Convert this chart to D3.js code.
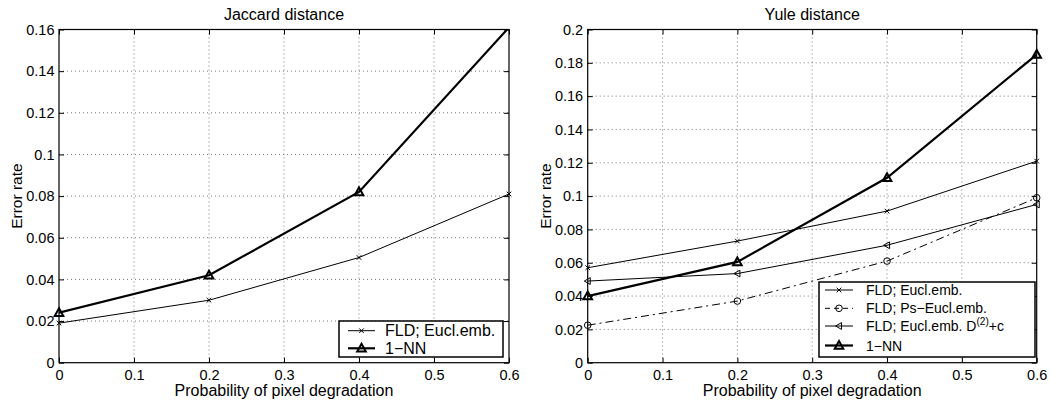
<!DOCTYPE html>
<html><head><meta charset="utf-8">
<script src="https://cdn.jsdelivr.net/npm/d3@7"></script>
<style>body{margin:0;background:#fff} svg text{font-family:"Liberation Sans",Arial,Helvetica,sans-serif;fill:#000}</style>
</head><body><svg id="c" width="1050" height="402"></svg>
<script>
// ---- data ----
const xValues = [0, 0.2, 0.4, 0.6];
const xTicks = [0, 0.1, 0.2, 0.3, 0.4, 0.5, 0.6];
const jaccardYTicks = [0, 0.02, 0.04, 0.06, 0.08, 0.1, 0.12, 0.14, 0.16];
const yuleYTicks = [0, 0.02, 0.04, 0.06, 0.08, 0.1, 0.12, 0.14, 0.16, 0.18, 0.2];
const jaccardFLD = [0.019, 0.030, 0.0505, 0.081];
const jaccardNN = [0.024, 0.042, 0.082, 0.161];
const yuleFLD = [0.057, 0.073, 0.091, 0.121];
const yulePsFLD = [0.0225, 0.037, 0.061, 0.099];
const yuleD2FLD = [0.049, 0.0535, 0.0705, 0.095];
const yuleNN = [0.040, 0.0605, 0.111, 0.185];
const titles = ["Jaccard distance", "Yule distance"];
const xLabel = "Probability of pixel degradation";
const yLabel = "Error rate";

const svg = d3.select("#c");
const fmt = d => d === 0 ? "0" : String(+d.toFixed(2));

function markerPath(type, s) {
  if (type === "x") return `M${-s},${-s}L${s},${s}M${-s},${s}L${s},${-s}`;
  if (type === "tri") return `M0,${-s*1.05}L${s},${s*0.75}L${-s},${s*0.75}Z`;
  if (type === "ltri") return `M${-s*1.0},0L${s*0.75},${-s}L${s*0.75},${s}Z`;
  return "";
}

function drawMarker(g, type, x, y) {
  if (type === "circle") {
    g.append("circle").attr("cx", x).attr("cy", y).attr("r", 3.3)
      .attr("fill", "none").attr("stroke", "#000").attr("stroke-width", 1);
  } else if (type === "x") {
    g.append("path").attr("transform", `translate(${x},${y})`).attr("d", markerPath("x", 2.3))
      .attr("fill", "none").attr("stroke", "#000").attr("stroke-width", 1);
  } else if (type === "tri") {
    g.append("path").attr("transform", `translate(${x},${y})`).attr("d", markerPath("tri", 4.3))
      .attr("fill", "none").attr("stroke", "#000").attr("stroke-width", 2).attr("stroke-linejoin", "miter");
  } else if (type === "ltri") {
    g.append("path").attr("transform", `translate(${x},${y})`).attr("d", markerPath("ltri", 3.4))
      .attr("fill", "none").attr("stroke", "#000").attr("stroke-width", 1);
  }
}

function panel(cfg) {
  const {id, left, right, top, bottom, yMax, yTicks, series, title, legend} = cfg;
  const g = svg.append("g");
  const x = d3.scaleLinear().domain([0, 0.6]).range([left, right]);
  const y = d3.scaleLinear().domain([0, yMax]).range([bottom, top]);

  // grid
  g.append("g").selectAll("line").data(xTicks.slice(1, -1)).join("line")
    .attr("x1", d => x(d)).attr("x2", d => x(d)).attr("y1", top).attr("y2", bottom)
    .attr("stroke", "#777").attr("stroke-width", 1).attr("stroke-dasharray", "1,3");
  g.append("g").selectAll("line").data(yTicks.slice(1, -1)).join("line")
    .attr("y1", d => y(d)).attr("y2", d => y(d)).attr("x1", left).attr("x2", right)
    .attr("stroke", "#777").attr("stroke-width", 1).attr("stroke-dasharray", "1,3");

  // axes
  const ax = g.append("g").attr("transform", `translate(0,${bottom})`)
    .call(d3.axisBottom(x).tickValues(xTicks).tickFormat(fmt).tickSize(-5).tickPadding(7));
  const ay = g.append("g").attr("transform", `translate(${left},0)`)
    .call(d3.axisLeft(y).tickValues(yTicks).tickFormat(fmt).tickSize(-5).tickPadding(4.5));
  const at = g.append("g").attr("transform", `translate(0,${top})`)
    .call(d3.axisTop(x).tickValues(xTicks).tickFormat("").tickSize(-5));
  const ar = g.append("g").attr("transform", `translate(${right},0)`)
    .call(d3.axisRight(y).tickValues(yTicks).tickFormat("").tickSize(-5));
  [ax, ay, at, ar].forEach(a => {
    a.select(".domain").remove();
    a.selectAll("line").attr("stroke", "#000");
    a.selectAll("text").style("font-size", "14.5px").attr("font-family", null);
  });
  g.append("rect").attr("x", left).attr("y", top).attr("width", right - left).attr("height", bottom - top)
    .attr("fill", "none").attr("stroke", "#000").attr("stroke-width", 1.2);

  // clip
  svg.append("clipPath").attr("id", "clip" + id).append("rect")
    .attr("x", left).attr("y", top).attr("width", right - left).attr("height", bottom - top);

  const line = d3.line().x((d, i) => x(xValues[i])).y(d => y(d));
  series.forEach(s => {
    const sg = g.append("g");
    sg.append("path").datum(s.values).attr("d", line).attr("clip-path", `url(#clip${id})`)
      .attr("fill", "none").attr("stroke", "#000").attr("stroke-width", s.width)
      .attr("stroke-dasharray", s.dash || null);
    s.values.forEach((v, i) => { if (v <= yMax) drawMarker(sg, s.marker, x(xValues[i]), y(v)); });
  });

  // titles
  g.append("text").attr("x", (left + right) / 2).attr("y", 19.5).attr("text-anchor", "middle")
    .style("font-size", "16px").text(title);
  g.append("text").attr("x", (left + right) / 2).attr("y", 396).attr("text-anchor", "middle")
    .style("font-size", "16px").text(xLabel);
  g.append("text").attr("transform", `translate(${left - 37},${(top + bottom) / 2}) rotate(-90)`)
    .attr("text-anchor", "middle").style("font-size", "15.5px").text(yLabel);

  // legend
  const L = legend;
  const lg = g.append("g");
  lg.append("rect").attr("x", L.x).attr("y", L.y).attr("width", L.w).attr("height", L.h)
    .attr("fill", "#fff").attr("stroke", "#000").attr("stroke-width", 1.5);
  series.forEach((s, i) => {
    const ry = L.rows[i];
    lg.append("line").attr("x1", L.lx1).attr("x2", L.lx2).attr("y1", ry).attr("y2", ry)
      .attr("stroke", "#000").attr("stroke-width", s.width).attr("stroke-dasharray", s.legendDash || null);
    drawMarker(lg, s.marker, (L.lx1 + L.lx2) / 2, ry);
    const t = lg.append("text").attr("x", L.tx).attr("y", ry + L.fs * 0.36).style("font-size", L.fs + "px");
    if (s.sup) {
      t.append("tspan").text(s.name);
      t.append("tspan").attr("dy", -6).style("font-size", (L.fs * 0.72) + "px").text(s.sup);
      t.append("tspan").attr("dy", 6).text(s.after);
    } else t.text(s.name);
  });
}

panel({
  id: "a", left: 59, right: 509, top: 29.5, bottom: 362.7, yMax: 0.16, yTicks: jaccardYTicks,
  title: titles[0],
  series: [
    {name: "FLD; Eucl.emb.", values: jaccardFLD, marker: "x", width: 1},
    {name: "1\u2212NN", values: jaccardNN, marker: "tri", width: 2.2}
  ],
  legend: {x: 339, y: 321, w: 164, h: 36, rows: [330.7, 348.3], lx1: 348, lx2: 375, tx: 385, fs: 16}
});

panel({
  id: "b", left: 587.7, right: 1036.7, top: 29.5, bottom: 362.7, yMax: 0.2, yTicks: yuleYTicks,
  title: titles[1],
  series: [
    {name: "FLD; Eucl.emb.", values: yuleFLD, marker: "x", width: 1},
    {name: "FLD; Ps\u2212Eucl.emb.", values: yulePsFLD, marker: "circle", width: 1, dash: "8,4,2,4", legendDash: "5,4"},
    {name: "FLD; Eucl.emb. D", sup: "(2)", after: "+c", values: yuleD2FLD, marker: "ltri", width: 1},
    {name: "1\u2212NN", values: yuleNN, marker: "tri", width: 2.2}
  ],
  legend: {x: 819, y: 282, w: 216, h: 75, rows: [290, 308.3, 326, 345.5], lx1: 825, lx2: 853, tx: 866, fs: 14}
});
</script></body></html>
